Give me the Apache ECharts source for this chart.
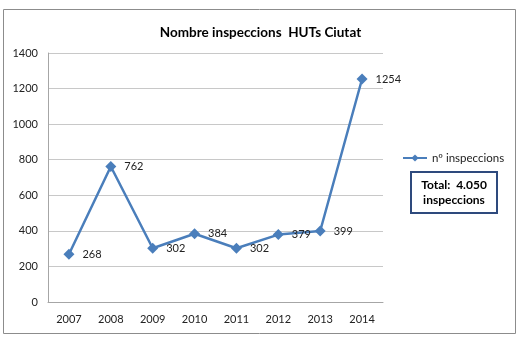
<!DOCTYPE html>
<html><head><meta charset="utf-8">
<script src="https://cdn.jsdelivr.net/npm/echarts@6/dist/echarts.min.js"></script>
<style>html,body{margin:0;padding:0;background:#fff}#c{width:521px;height:342px}</style>
</head><body><div id="c"></div>
<script>
const categories = ['2007','2008','2009','2010','2011','2012','2013','2014'];
const values = [268, 762, 302, 384, 302, 379, 399, 1254];
const yTicks = [0, 200, 400, 600, 800, 1000, 1200, 1400];
const title = 'Nombre inspeccions  HUTs Ciutat';
const seriesName = 'nº inspeccions';
const totalText = 'Total:  4.050\ninspeccions';

const font = 'Lato, "Open Sans", sans-serif';
const chart = echarts.init(document.getElementById('c'), null, {renderer: 'canvas'});
chart.setOption({
  animation: false,
  title: {text: title, left: 'center', top: 21,
    textStyle: {fontFamily: font, fontSize: 13.5, fontWeight: 'bold', color: '#000'}},
  grid: {left: 48, right: 138, top: 53, bottom: 40, containLabel: false},
  legend: {data: [seriesName], left: 402, top: 152, orient: 'vertical', padding: 0,
    itemWidth: 24, itemHeight: 9, itemGap: 4,
    textStyle: {fontFamily: font, fontSize: 11.5, color: '#222'}},
  xAxis: {type: 'category', data: categories, boundaryGap: true,
    axisLine: {show: true, lineStyle: {color: '#a6a6a6'}},
    axisTick: {show: false},
    axisLabel: {fontFamily: font, fontSize: 11, color: '#222', margin: 12}},
  yAxis: {type: 'value', min: yTicks[0], max: yTicks[yTicks.length-1], interval: 200,
    axisLine: {show: true, lineStyle: {color: '#a6a6a6'}},
    axisTick: {show: false},
    splitLine: {lineStyle: {color: '#c8c8c8'}},
    axisLabel: {fontFamily: font, fontSize: 11, color: '#222', margin: 10, formatter: v => String(v)}},
  series: [{
    name: seriesName, type: 'line', data: values,
    symbol: 'diamond', symbolSize: 11,
    lineStyle: {color: '#4a7ebb', width: 2.5},
    itemStyle: {color: '#4a7ebb'},
    label: {show: true, position: 'right', distance: 8, fontFamily: font, fontSize: 11, color: '#222'}
  }],
  graphic: [
    {type: 'rect', shape: {x: 3.5, y: 9.5, width: 512, height: 324}, style: {fill: null, stroke: '#8c8c8c', lineWidth: 1}, silent: true},
    {type: 'rect', shape: {x: 411, y: 172, width: 86, height: 41}, style: {fill: '#fff', stroke: '#2e4a7d', lineWidth: 2}},
    {type: 'text', x: 454, y: 178, style: {text: totalText, x: 0, y: 0, fontFamily: font, fontSize: 12, fontWeight: 'bold', fill: '#000', align: 'center', textAlign: 'center', lineHeight: 15}}
  ]
});
</script></body></html>
